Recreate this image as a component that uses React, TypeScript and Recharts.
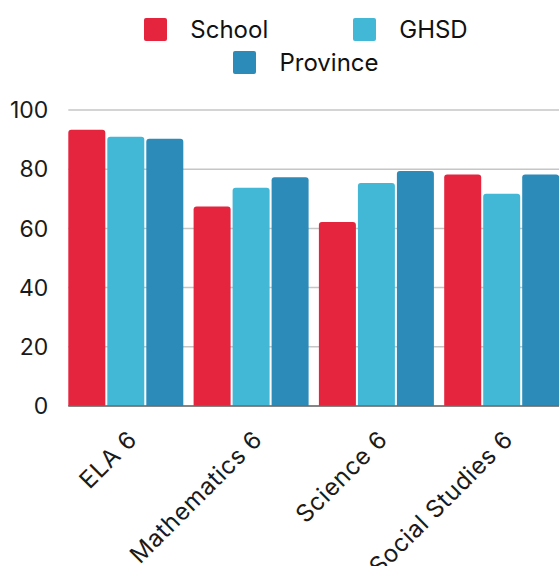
import { BarChart, Bar, XAxis, YAxis, CartesianGrid } from "recharts"

const subjects = ["ELA 6", "Mathematics 6", "Science 6", "Social Studies 6"]
const school = [93.3, 67.4, 62.2, 78.2]
const ghsd = [91.0, 73.7, 75.3, 71.7]
const province = [90.3, 77.3, 79.4, 78.2]
const yTicks = [0, 20, 40, 60, 80, 100]

const SERIES = [
  { key: "school", name: "School", color: "#e5243e" },
  { key: "ghsd", name: "GHSD", color: "#43b7d6" },
  { key: "province", name: "Province", color: "#2d8bba" },
]

const data = subjects.map((subject, i) => ({
  subject,
  school: school[i],
  ghsd: ghsd[i],
  province: province[i],
}))

const FONT = "Inter, 'Open Sans', sans-serif"

function XTick({ x, y, payload }: any) {
  return (
    <g transform={`translate(${x + 12},${y + 27})`}>
      <text
        x={0}
        y={0}
        textAnchor="end"
        transform="rotate(-45)"
        fill="#1a1a1a"
        fontSize={24}
        letterSpacing={0.6}
        fontFamily={FONT}
      >
        {payload.value}
      </text>
    </g>
  )
}

function LegendRows() {
  const rows = [SERIES.slice(0, 2), SERIES.slice(2)]
  return (
    <div
      style={{
        position: "absolute",
        top: 13,
        left: 0,
        width: 612,
        fontFamily: FONT,
        fontSize: 24,
        color: "#111",
      }}
    >
      {rows.map((row, r) => (
        <div
          key={r}
          style={{ display: "flex", justifyContent: "center", columnGap: 85, height: 33, alignItems: "center" }}
        >
          {row.map((s) => (
            <div key={s.key} style={{ display: "flex", alignItems: "center" }}>
              <span
                style={{
                  display: "inline-block",
                  width: 23,
                  height: 23,
                  borderRadius: 2,
                  background: s.color,
                  marginRight: 23,
                }}
              />
              <span>{s.name}</span>
            </div>
          ))}
        </div>
      ))}
    </div>
  )
}

export default function App() {
  return (
    <div
      style={{
        position: "absolute",
        top: 0,
        left: 0,
        width: 559,
        height: 566,
        overflow: "hidden",
        background: "#fff",
      }}
    >
      <BarChart
        width={565}
        height={566}
        data={data}
        margin={{ top: 110, right: 0, bottom: 0, left: 0 }}
        barCategoryGap={4.5}
        barGap={2}
      >
        <CartesianGrid vertical={false} stroke="#c6c6c6" strokeWidth={1.5} />
        <XAxis
          dataKey="subject"
          interval={0}
          height={160}
          padding={{ left: -4.5, right: 0 }}
          tickLine={false}
          axisLine={{ stroke: "#6b6b6b", strokeWidth: 1.5 }}
          tick={<XTick />}
        />
        <YAxis
          width={68.3}
          domain={[0, 100]}
          ticks={yTicks}
          axisLine={false}
          tickLine={false}
          tickSize={0}
          tickMargin={20}
          tick={{ fill: "#1a1a1a", fontSize: 23, fontFamily: FONT }}
        />
        {SERIES.map((s) => (
          <Bar
            key={s.key}
            dataKey={s.key}
            name={s.name}
            fill={s.color}
            radius={[3, 3, 0, 0]}
            isAnimationActive={false}
          />
        ))}
      </BarChart>
      <LegendRows />
    </div>
  )
}
